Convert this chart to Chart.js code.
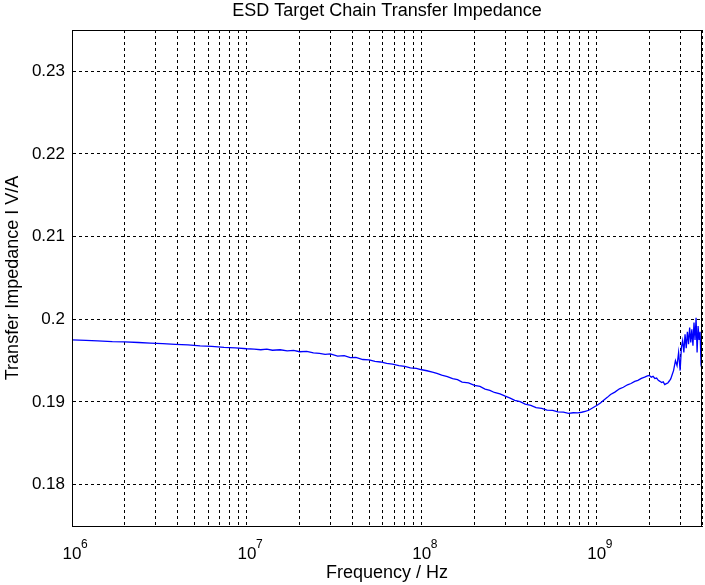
<!DOCTYPE html>
<html lang="en">
<head>
    <meta charset="UTF-8">
    <title>ESD Target Chain Transfer Impedance</title>
    <script src="https://cdn.jsdelivr.net/npm/chart.js"></script>
    <style>
        body {
            margin: 0;
            padding: 0;
            background-color: #fff;
        }
        .chart-box {
            width: 705px;
            height: 585px;
            position: relative;
        }
    </style>
</head>
<body>
    <div class="chart-box">
        <canvas id="impedanceChart"></canvas>
    </div>
    <script>
        const freqHz = [
            1.0e6, 1.2e6, 1.4e6, 1.7e6, 2.0e6, 2.4e6, 2.8e6, 3.3e6, 3.9e6, 4.6e6, 5.4e6, 6.3e6, 7.4e6, 8.6e6,
            1.0e7, 1.1e7, 1.2e7, 1.3e7, 1.4e7, 1.55e7, 1.7e7, 1.85e7, 2.0e7, 2.2e7, 2.4e7, 2.6e7, 2.8e7, 3.0e7,
            3.3e7, 3.6e7, 3.9e7, 4.2e7, 4.6e7, 5.0e7, 5.4e7, 5.8e7, 6.3e7, 6.8e7, 7.4e7, 8.0e7, 8.6e7, 9.3e7,
            1.0e8, 1.07e8, 1.15e8, 1.22e8, 1.3e8, 1.4e8, 1.5e8, 1.6e8, 1.7e8, 1.85e8, 2.0e8, 2.15e8, 2.3e8,
            2.45e8, 2.6e8, 2.8e8, 3.0e8, 3.2e8, 3.4e8, 3.65e8, 3.9e8, 4.2e8, 4.5e8, 4.85e8, 5.2e8, 5.6e8, 6.0e8,
            6.45e8, 6.9e8, 7.35e8, 7.8e8, 8.2e8, 8.6e8, 9.0e8, 9.4e8,
            1.0e9, 1.05e9, 1.1e9, 1.15e9, 1.2e9, 1.27e9, 1.35e9, 1.42e9, 1.5e9, 1.57e9, 1.65e9, 1.72e9, 1.8e9,
            1.88e9, 1.95e9, 2.0e9, 2.05e9, 2.1e9, 2.15e9, 2.2e9, 2.25e9, 2.3e9, 2.35e9, 2.4e9, 2.45e9, 2.5e9,
            2.55e9, 2.6e9, 2.65e9, 2.7e9, 2.75e9, 2.82e9, 2.88e9, 2.94e9, 3.0e9, 3.05e9, 3.1e9, 3.15e9, 3.2e9,
            3.25e9, 3.3e9, 3.35e9, 3.4e9, 3.45e9, 3.5e9, 3.55e9, 3.6e9, 3.65e9, 3.7e9, 3.75e9, 3.8e9, 3.85e9,
            3.9e9, 3.95e9, 4.0e9
        ];
        const impedance = [
            0.19752, 0.19745, 0.19740, 0.19730, 0.19728, 0.19720, 0.19712, 0.19706, 0.19698, 0.19690, 0.19680, 0.19674, 0.19662, 0.19654,
            0.19644, 0.19640, 0.19632, 0.19640, 0.19626, 0.19632, 0.19618, 0.19624, 0.19608, 0.19612, 0.19594, 0.19588, 0.19576, 0.19582,
            0.19556, 0.19560, 0.19538, 0.19540, 0.19514, 0.19510, 0.19492, 0.19484, 0.19466, 0.19458, 0.19440, 0.19432, 0.19414, 0.19406,
            0.19390, 0.19378, 0.19360, 0.19346, 0.19325, 0.19308, 0.19282, 0.19270, 0.19240, 0.19232, 0.19200, 0.19188, 0.19155,
            0.19140, 0.19115, 0.19098, 0.19070, 0.19046, 0.19020, 0.19004, 0.18975, 0.18960, 0.18932, 0.18924, 0.18902, 0.18898, 0.18880,
            0.18878, 0.18862, 0.18870, 0.18868, 0.18876, 0.18888, 0.18900, 0.18924,
            0.18958, 0.18988, 0.19024, 0.19056, 0.19090, 0.19120, 0.19160, 0.19178, 0.19208, 0.19224, 0.19250, 0.19262, 0.19286,
            0.19300, 0.19316, 0.19322, 0.19300, 0.19310, 0.19284, 0.19290, 0.19262, 0.19250, 0.19236, 0.19244, 0.19210, 0.19222,
            0.19230, 0.19254, 0.19280, 0.19330, 0.19380, 0.19500, 0.19440, 0.19600, 0.19380, 0.19660, 0.19740, 0.19600, 0.19820,
            0.19650, 0.19850, 0.19700, 0.19900, 0.19720, 0.19880, 0.19680, 0.19960, 0.19750, 0.20020, 0.19600, 0.19920, 0.19750,
            0.19850, 0.19450, 0.19400
        ];

        const xMin = 1e6;
        const xMax = 4e9;
        const decades = [1e6, 1e7, 1e8, 1e9];
        const decadeExp = ['6', '7', '8', '9'];
        const minorSteps = [1, 2, 3, 4, 5, 6, 7, 8, 9];
        const yMin = 0.175;
        const yMax = 0.235;
        const yTicks = [0.18, 0.19, 0.2, 0.21, 0.22, 0.23];

        const xGrid = [];
        decades.forEach(d => minorSteps.forEach(m => {
            if (d * m <= xMax) xGrid.push(d * m);
        }));

        const FONT = '"Liberation Sans", Arial, Helvetica, sans-serif';

        const framePlugin = {
            id: 'matlabFrame',
            afterDraw(chart) {
                const { ctx, chartArea: a, scales } = chart;
                ctx.save();
                ctx.strokeStyle = '#000';
                ctx.lineWidth = 1;
                ctx.strokeRect(a.left + 0.5, a.top + 0.5, a.right - a.left - 1, a.bottom - a.top);

                // title centred over the axes box
                ctx.fillStyle = '#000';
                ctx.font = '18px ' + FONT;
                ctx.textAlign = 'center';
                ctx.textBaseline = 'alphabetic';
                ctx.fillText('ESD Target Chain Transfer Impedance', (a.left + a.right) / 2, 16);

                // decade labels as 10 with raised exponent
                decades.forEach((d, i) => {
                    const px = scales.x.getPixelForValue(d);
                    ctx.font = '17px ' + FONT;
                    ctx.textAlign = 'center';
                    ctx.fillText('10', px, a.bottom + 33);
                    ctx.font = '12px ' + FONT;
                    ctx.textAlign = 'left';
                    ctx.fillText(decadeExp[i], px + 9, a.bottom + 22);
                });
                ctx.restore();
            }
        };

        new Chart(document.getElementById('impedanceChart'), {
            type: 'line',
            data: {
                datasets: [{
                    data: freqHz.map((f, i) => ({ x: f, y: impedance[i] })),
                    borderColor: '#0000ff',
                    borderWidth: 1.3,
                    pointRadius: 0,
                    tension: 0,
                    fill: false
                }]
            },
            options: {
                responsive: true,
                maintainAspectRatio: false,
                animation: false,
                devicePixelRatio: 1,
                layout: { padding: { top: 30, right: 2, left: 2, bottom: 0 } },
                plugins: {
                    legend: { display: false },
                    title: { display: false },
                    tooltip: { enabled: false }
                },
                scales: {
                    x: {
                        type: 'logarithmic',
                        min: xMin,
                        max: xMax,
                        afterBuildTicks: s => { s.ticks = xGrid.map(v => ({ value: v })); },
                        afterFit: s => { s.height = 59; },
                        ticks: {
                            autoSkip: false,
                            maxRotation: 0,
                            callback: () => ''
                        },
                        grid: {
                            color: '#000',
                            lineWidth: 1,
                            drawTicks: false
                        },
                        border: { display: true, color: '#000', width: 1, dash: [3, 3] },
                        title: {
                            display: true,
                            text: 'Frequency / Hz',
                            color: '#000',
                            font: { family: FONT, size: 18 },
                            padding: { top: 0, bottom: 1 }
                        }
                    },
                    y: {
                        type: 'linear',
                        min: yMin,
                        max: yMax,
                        afterBuildTicks: s => { s.ticks = yTicks.map(v => ({ value: v })); },
                        afterFit: s => { s.width = 70; },
                        ticks: {
                            color: '#000',
                            padding: 7,
                            font: { family: FONT, size: 17 },
                            callback: v => String(v)
                        },
                        grid: {
                            color: '#000',
                            lineWidth: 1,
                            drawTicks: false
                        },
                        border: { display: true, color: '#000', width: 1, dash: [3, 3] },
                        title: {
                            display: true,
                            text: 'Transfer Impedance I V/A',
                            color: '#000',
                            font: { family: FONT, size: 18 },
                            padding: { top: 0, bottom: 0 }
                        }
                    }
                }
            },
            plugins: [framePlugin]
        });
    </script>
</body>
</html>
